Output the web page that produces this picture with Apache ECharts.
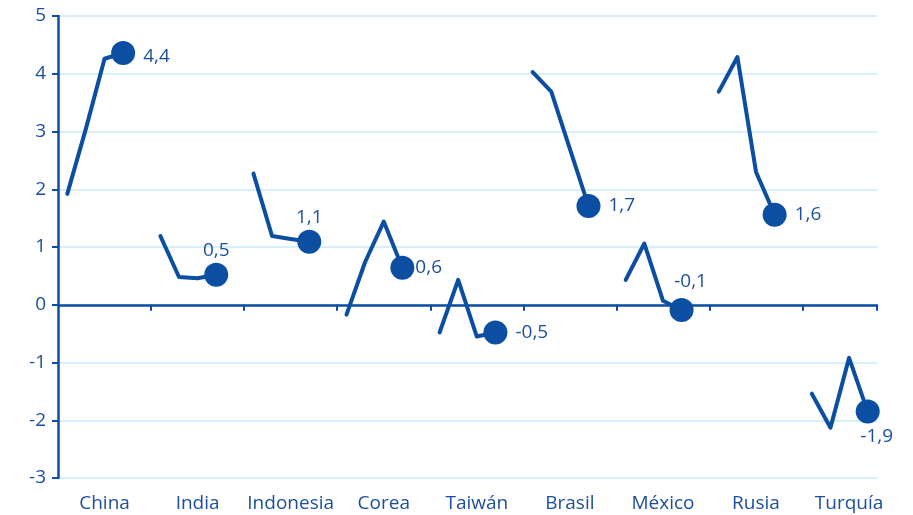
<!DOCTYPE html>
<html>
<head>
<meta charset="utf-8">
<script src="https://cdn.jsdelivr.net/npm/echarts@6/dist/echarts.min.js"></script>
<style>
  html, body { margin: 0; padding: 0; background: #fff; }
</style>
</head>
<body>
<div id="chart" style="width: 913px; height: 515px;"></div>
<script>
// paises (una categoria por grupo)
var countries = ['China', 'India', 'Indonesia', 'Corea', 'Taiwán', 'Brasil', 'México', 'Rusia', 'Turquía']
// valores de cada grupo, el ultimo es el que lleva punto y etiqueta
var china = [1.92, 3.05, 4.26, 4.36]
var india = [1.19, 0.48, 0.46, 0.52]
var indonesia = [2.27, 1.19, 1.14, 1.09]
var corea = [-0.17, 0.74, 1.44, 0.64]
var taiwan = [-0.48, 0.43, -0.55, -0.48]
var brasil = [4.03, 3.69, 2.70, 1.71]
var mexico = [0.43, 1.06, 0.07, -0.09]
var rusia = [3.69, 4.29, 2.30, 1.56]
var turquia = [-1.54, -2.13, -0.92, -1.85]
var yTicks = [-3, -2, -1, 0, 1, 2, 3, 4, 5]

var groups = [china, india, indonesia, corea, taiwan, brasil, mexico, rusia, turquia]
// posicion de la etiqueta del ultimo punto
var labelPos = ['right', 'top', 'top', 'right', 'right', 'right', 'top', 'right', 'bottom']
//  desplazamiento fino de algunas etiquetas
var labelOffset = [[0, 4], [0, 0], [0, 0], [0, 0], [0, 0], [0, 0], [9, -4], [0, 0], [9, 3]]

var blue = '#0b4ea2'
var textBlue = '#1b4f9d'
var fontSize = 19

// 5 huecos por pais (4 puntos + separacion), sin el ultimo hueco
var categories = []
var seriesData = []
for (let g = 0; g < groups.length; g++) {
  for (let k = 0; k < 5; k++) {
    if (g === groups.length - 1 && k === 4) break
    categories.push(countries[g] + '#' + k)
    if (k < 4) {
      let v = groups[g][k]
      if (k === 3) {
        let pos = labelPos[g]
        seriesData.push({
          value: v,
          symbol: 'circle',
          symbolSize: 24,
          label: {
            show: true,
            position: pos,
            offset: labelOffset[g],
            distance: pos === 'right' ? (g === 3 ? 1 : 8) : (pos === 'bottom' ? 1 : 3),
            formatter: function (p) { return p.value.toFixed(1).replace('.', ',') }
          }
        })
      } else {
        seriesData.push(v)
      }
    } else {
      seriesData.push(null)
    }
  }
}

var myChart = echarts.init(document.getElementById('chart'))
var option = {
  animation: false,
  textStyle: { fontFamily: 'Open Sans' },
  grid: { left: 58, right: 36, top: 16, bottom: 37, containLabel: false, outerBoundsMode: 'none' },
  xAxis: {
    type: 'category',
    data: categories,
    boundaryGap: true,
    axisLine: { onZero: true, lineStyle: { color: blue, width: 2.5 } },
    axisTick: {
      show: true,
      length: 6,
      lineStyle: { color: blue, width: 2 },
      interval: function (i) { return i > 0 && i % 5 === 0 }
    },
    axisLabel: {
      margin: 16,
      color: textBlue,
      fontSize: fontSize,
      fontFamily: 'Open Sans',
      interval: function (i) { return i % 5 === 2 },
      formatter: function (v) { return v.split('#')[0] }
    },
    splitLine: { show: false }
  },
  yAxis: {
    type: 'value',
    min: yTicks[0],
    max: yTicks[yTicks.length - 1],
    interval: 1,
    axisLine: { show: true, lineStyle: { color: blue, width: 2.5 } },
    axisTick: { show: true, length: 6, lineStyle: { color: blue, width: 2 } },
    axisLabel: { color: textBlue, fontSize: fontSize, margin: 12, fontFamily: 'Open Sans' },
    splitLine: { lineStyle: { color: '#c9eaf8', width: 1.5 } }
  },
  series: [{
    type: 'line',
    data: seriesData,
    connectNulls: false,
    showAllSymbol: true,
    symbol: 'none',
    lineStyle: { color: blue, width: 4, cap: 'round', join: 'round' },
    itemStyle: { color: blue },
    label: { color: textBlue, fontSize: fontSize, fontFamily: 'Open Sans' },
    emphasis: { disabled: true }
  }]
}
myChart.setOption(option)
</script>
</body>
</html>
